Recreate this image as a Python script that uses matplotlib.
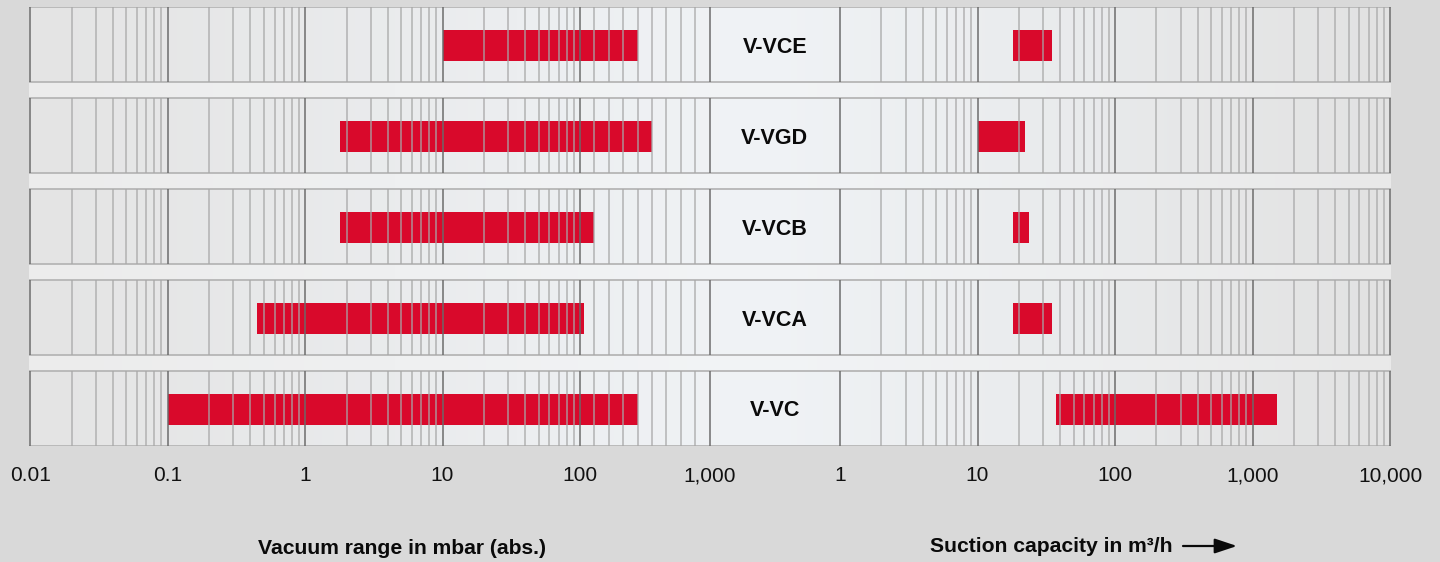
import numpy as np
import matplotlib
matplotlib.use("Agg")
import matplotlib.pyplot as plt

# ---------------- data ----------------
models = ["V-VCE", "V-VGD", "V-VCB", "V-VCA", "V-VC"]
vac_min = [10, 1.8, 1.8, 0.45, 0.1]       # mbar (abs.)
vac_max = [500, 600, 200, 125, 500]
cap_min = [18, 10, 18, 18, 37.5]         # m3/h
cap_max = [35, 22, 23.5, 35, 1500]
vac_ticks = [0.01, 0.1, 1, 10, 100, 1000]
vac_tick_labels = ["0.01", "0.1", "1", "10", "100", "1,000"]
cap_ticks = [1, 10, 100, 1000, 10000]
cap_tick_labels = ["1", "10", "100", "1,000", "10,000"]
vac_label = "Vacuum range in mbar (abs.)"
cap_label = "Suction capacity in m\u00b3/h"

# ---------------- style ----------------
W, H, DPI = 1440, 562, 100
FONT = ["Liberation Sans", "DejaVu Sans"]
plt.rcParams["font.family"] = FONT
OUTER = "#d9d9d9"
RED = "#d9092b"
MAJOR_C = "#6a6a6a"
MINOR_C = "#a8a8a8"
BORDER_C = "#b6b6b6"

PANEL_TOP, PITCH, ROW_H = 7.3, 90.9, 75.0
N = len(models)
PANEL_H = PITCH * (N - 1) + ROW_H
X_L0, X_L1 = 30.3, 709.7     # vacuum axis
X_R0, X_R1 = 840.0, 1390.0   # capacity axis
BAR_OFF, BAR_H = 22.7, 31.0
LIN_DEC = 0.944              # width (in decades) of the linear 100..1000 part


def fx(px):
    return px / W


def fy(py):
    return 1 - py / H


def vac_fwd(x):
    x = np.asarray(x, dtype=float)
    xs = np.clip(x, 1e-12, None)
    return np.where(x <= 100, np.log10(xs), 2 + (x - 100) / 900.0 * LIN_DEC)


def vac_inv(y):
    y = np.asarray(y, dtype=float)
    return np.where(y <= 2, 10 ** np.minimum(y, 2), 100 + (y - 2) / LIN_DEC * 900.0)


fig = plt.figure(figsize=(W / DPI, H / DPI), dpi=DPI, facecolor=OUTER)

bottom = fy(PANEL_TOP + PANEL_H)
height = PANEL_H / H

# ---- background gradient panel ----
axB = fig.add_axes([fx(X_L0 - 1), bottom, fx(X_R1 + 1) - fx(X_L0 - 1), height], zorder=0)
ncol = 400
xs = np.linspace(0, 1, ncol)
peak = (760 - X_L0) / (X_R1 - X_L0)


def grad(left, mid, right):
    left, mid, right = (np.array(c, float) for c in (left, mid, right))
    out = np.empty((ncol, 3))
    for i, t in enumerate(xs):
        if t <= peak:
            f = t / peak
            out[i] = left + (mid - left) * f
        else:
            f = (t - peak) / (1 - peak)
            out[i] = mid + (right - mid) * f
    return out / 255.0


row_g = grad((228, 228, 228), (240, 243, 246), (226, 226, 226))
gap_g = grad((236, 236, 236), (242, 244, 246), (233, 233, 233))
nrow = int(round(PANEL_H * 2))
img = np.empty((nrow, ncol, 3))
ys = np.linspace(0, PANEL_H, nrow)
for j, yv in enumerate(ys):
    k = int(yv // PITCH)
    inrow = (yv - k * PITCH) <= ROW_H
    img[j] = row_g if inrow else gap_g
axB.imshow(img, extent=[0, 1, PANEL_H, 0], aspect="auto", interpolation="bilinear")
axB.set_xlim(0, 1)
axB.set_ylim(PANEL_H, 0)
for k in range(N):
    y0 = k * PITCH
    axB.hlines([y0, y0 + ROW_H], 0, 1, color=BORDER_C, lw=1.3, zorder=2)
axB.axis("off")

# ---- left (vacuum) axis ----
axL = fig.add_axes([fx(X_L0), bottom, fx(X_L1) - fx(X_L0), height], zorder=2)
axL.set_xscale("function", functions=(vac_fwd, vac_inv))
axL.set_xlim(0.01, 1000)
axL.set_ylim(PANEL_H, 0)

# ---- right (capacity) axis ----
axR = fig.add_axes([fx(X_R0), bottom, fx(X_R1) - fx(X_R0), height], zorder=2)
axR.set_xscale("log")
axR.set_xlim(1, 10000)
axR.set_ylim(PANEL_H, 0)

# ---- middle label column ----
axM = fig.add_axes([fx(X_L1), bottom, fx(X_R0) - fx(X_L1), height], zorder=2)
axM.set_xlim(0, 1)
axM.set_ylim(PANEL_H, 0)
axM.axis("off")

vac_minor = [k * 10.0 ** d for d in range(-2, 3) for k in range(2, 10)]
cap_minor = [k * 10.0 ** d for d in range(0, 4) for k in range(2, 10)]

for ax, majors, minors, lo, hi in (
    (axL, vac_ticks, vac_minor, vac_min, vac_max),
    (axR, cap_ticks, cap_minor, cap_min, cap_max),
):
    ax.patch.set_alpha(0)
    for s in ax.spines.values():
        s.set_visible(False)
    centers = [k * PITCH + BAR_OFF + BAR_H / 2 for k in range(N)]
    widths = [h - l for l, h in zip(lo, hi)]
    ax.barh(centers, widths, left=lo, height=BAR_H, color=RED, zorder=2, linewidth=0)
    for k in range(N):
        y0 = k * PITCH
        ax.vlines(minors, y0, y0 + ROW_H, color=MINOR_C, lw=1.1, alpha=0.85, zorder=3)
        ax.vlines(majors, y0, y0 + ROW_H, color=MAJOR_C, lw=1.2, alpha=0.9, zorder=4,
                  clip_on=False)
    ax.set_yticks([])
    ax.minorticks_off()
    ax.tick_params(axis="x", which="both", length=0, pad=25.6, labelsize=15,
                   labelcolor="#111111")

axL.set_xticks(vac_ticks, vac_tick_labels)
axR.set_xticks(cap_ticks, cap_tick_labels)
axL.xaxis.set_minor_locator(matplotlib.ticker.NullLocator())
axR.xaxis.set_minor_locator(matplotlib.ticker.NullLocator())
for ax in (axL, axR):
    for lbl in ax.get_xticklabels():
        lbl.set_verticalalignment("baseline")

for k, name in enumerate(models):
    axM.text(0.5, k * PITCH + ROW_H / 2 + 2.5, name, ha="center", va="center",
             fontsize=15.5, fontweight="bold", color="#0a0a0a")

# ---- axis titles ----
fig.text(fx(402), fy(548), vac_label, ha="center", va="center", fontsize=15.2,
         fontweight="bold", color="#0a0a0a")
fig.text(fx(930), fy(546), cap_label, ha="left", va="center", fontsize=15.2,
         fontweight="bold", color="#0a0a0a")
fig.patches.append(matplotlib.patches.FancyArrowPatch(
    (fx(1183), fy(546)), (fx(1237), fy(546)), transform=fig.transFigure,
    arrowstyle="-|>,head_length=0.75,head_width=0.25", mutation_scale=18,
    lw=1.6, color="#0a0a0a", shrinkA=0, shrinkB=0))

fig.savefig("out.png", dpi=DPI, facecolor=OUTER)
